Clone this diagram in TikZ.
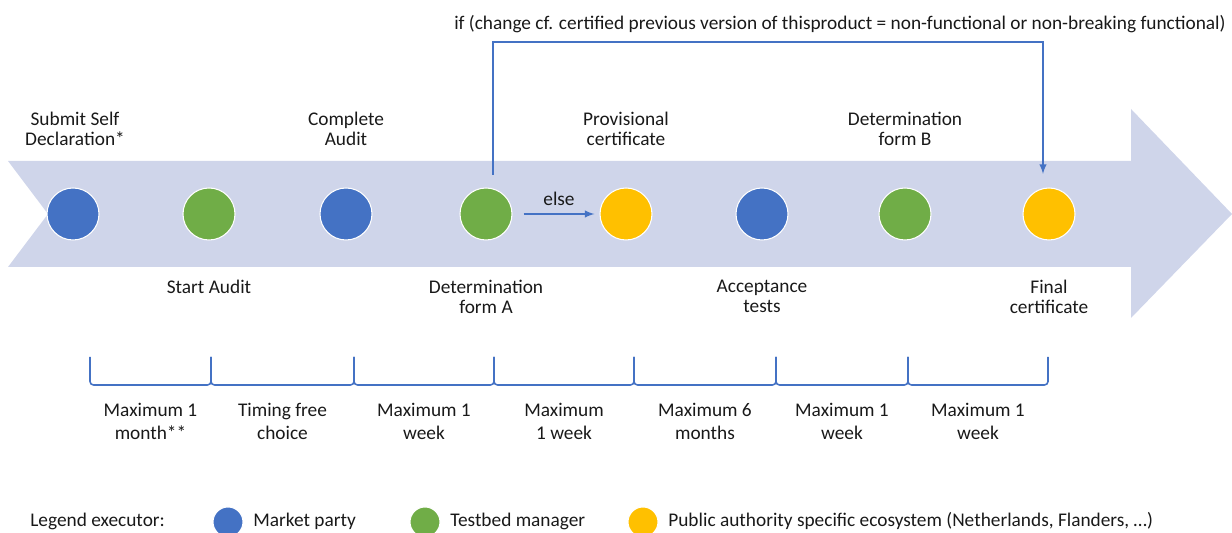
\documentclass[tikz,border=0pt]{standalone}
\usepackage{fontspec}
\setmainfont{Carlito}
\usetikzlibrary{calc}
\definecolor{partyblue}{HTML}{4472C4}
\definecolor{testgreen}{HTML}{70AD47}
\definecolor{authyellow}{HTML}{FFC000}
\definecolor{bandblue}{HTML}{CFD5EA}
\tikzset{
  >=latex,
}
\tikzstyle{event}=[circle,draw=white,line width=0.6pt,minimum size=1.04cm,inner sep=0pt]
\tikzstyle{market}=[event,fill=partyblue]
\tikzstyle{testbed}=[event,fill=testgreen]
\tikzstyle{authority}=[event,fill=authyellow]
\tikzstyle{flow}=[partyblue,line width=0.9pt]
\tikzstyle{eventtext}=[align=center,inner sep=0pt]
\tikzstyle{spantext}=[align=center,inner sep=0pt,anchor=north,font=\fontsize{11}{13}\selectfont]
\tikzstyle{legendtext}=[anchor=base west,inner sep=0pt]
\tikzstyle{every node}=[font=\fontsize{11}{11.4}\selectfont,text=black!90]

\begin{document}
\begin{tikzpicture}
    \useasboundingbox (0,0) rectangle (24.64,10.66);
    \clip (0,0) rectangle (24.64,10.66);
    % timeline arrow
    \fill[bandblue] (0.16,7.44) -- (22.62,7.44) -- (22.62,8.48) -- (24.64,6.38)
      -- (22.62,4.30) -- (22.62,5.32) -- (0.16,5.32) -- (0.96,6.38) -- cycle;
    % events
    \node[market] (c1) at (1.46,6.38) {};
    \node[testbed] (c2) at (4.18,6.38) {};
    \node[market] (c3) at (6.92,6.38) {};
    \node[testbed] (c4) at (9.72,6.38) {};
    \node[authority] (c5) at (12.52,6.38) {};
    \node[market] (c6) at (15.24,6.38) {};
    \node[testbed] (c7) at (18.10,6.38) {};
    \node[authority] (c8) at (20.98,6.38) {};
    % labels above and below
    \node[eventtext,anchor=south] (t1) at ($(c1)+(0.04,1.36)$) {Submit Self\\Declaration*};
    \node[eventtext,anchor=south] (t3) at ($(c3)+(0,1.36)$) {Complete\\Audit};
    \node[eventtext,anchor=south] (t5) at ($(c5)+(0,1.36)$) {Provisional\\certificate};
    \node[eventtext,anchor=south] (t7) at ($(c7)+(0,1.36)$) {Determination\\form B};
    \node[eventtext,anchor=north] (t2) at ($(c2)+(0,-1.32)$) {Start Audit};
    \node[eventtext,anchor=north] (t4) at ($(c4)+(0,-1.32)$) {Determination\\form A};
    \node[eventtext,anchor=north] (t6) at ($(c6)+(0,-1.32)$) {Acceptance\\tests};
    \node[eventtext,anchor=north] (t8) at ($(c8)+(0,-1.32)$) {Final\\certificate};
    % branches
    \coordinate (ifstart) at ($(c4)+(0.14,0.78)$);
    \coordinate (ifend) at ($(c8)+(-0.12,0.80)$);
    \draw[flow,->] (ifstart) -- ++(0,2.66) -| (ifend);
    \node[anchor=base] (cond) at (16.8,10.06) {if (change cf. certified previous version of thisproduct = non-functional or non-breaking functional)};
    \draw[flow,->] ([xshift=0.22cm]c4.east) -- node[above=1pt] (elsetxt) {else} ([xshift=-0.1cm]c5.west);
    % durations
    \coordinate (b0) at (1.80,3.52);
    \coordinate (b1) at (4.22,3.52);
    \coordinate (b2) at (7.08,3.52);
    \coordinate (b3) at (9.88,3.52);
    \coordinate (b4) at (12.68,3.52);
    \coordinate (b5) at (15.52,3.52);
    \coordinate (b6) at (18.16,3.52);
    \coordinate (b7) at (20.96,3.52);
    \draw[flow,rounded corners=2pt] (b0) -- ++(0,-0.56) -| (b1);
    \draw[flow,rounded corners=2pt] (b1) -- ++(0,-0.56) -| (b2);
    \draw[flow,rounded corners=2pt] (b2) -- ++(0,-0.56) -| (b3);
    \draw[flow,rounded corners=2pt] (b3) -- ++(0,-0.56) -| (b4);
    \draw[flow,rounded corners=2pt] (b4) -- ++(0,-0.56) -| (b5);
    \draw[flow,rounded corners=2pt] (b5) -- ++(0,-0.56) -| (b6);
    \draw[flow,rounded corners=2pt] (b6) -- ++(0,-0.56) -| (b7);
    \node[spantext] (s1) at ($(b0)!0.5!(b1)+(0,-0.92)$) {Maximum 1\\month**};
    \node[spantext] (s2) at ($(b1)!0.5!(b2)+(0,-0.92)$) {Timing free\\choice};
    \node[spantext] (s3) at ($(b2)!0.5!(b3)+(0,-0.92)$) {Maximum 1\\week};
    \node[spantext] (s4) at ($(b3)!0.5!(b4)+(0,-0.92)$) {Maximum\\1 week};
    \node[spantext] (s5) at ($(b4)!0.5!(b5)+(0,-0.92)$) {Maximum 6\\months};
    \node[spantext] (s6) at ($(b5)!0.5!(b6)+(0,-0.92)$) {Maximum 1\\week};
    \node[spantext] (s7) at ($(b6)!0.5!(b7)+(0,-0.92)$) {Maximum 1\\week};
    % legend
    \node[legendtext] (leg) at (0.60,0.12) {Legend executor:};
    \node[market,minimum size=0.6cm] (l1) at (4.56,0.22) {};
    \node[legendtext] (l1t) at (5.06,0.12) {Market party};
    \node[testbed,minimum size=0.6cm] (l2) at (8.50,0.22) {};
    \node[legendtext] (l2t) at (9.00,0.12) {Testbed manager};
    \node[authority,minimum size=0.6cm] (l3) at (12.86,0.22) {};
    \node[legendtext] (l3t) at (13.36,0.12) {Public authority specific ecosystem (Netherlands, Flanders, \dots)};
  \end{tikzpicture}
\end{document}
